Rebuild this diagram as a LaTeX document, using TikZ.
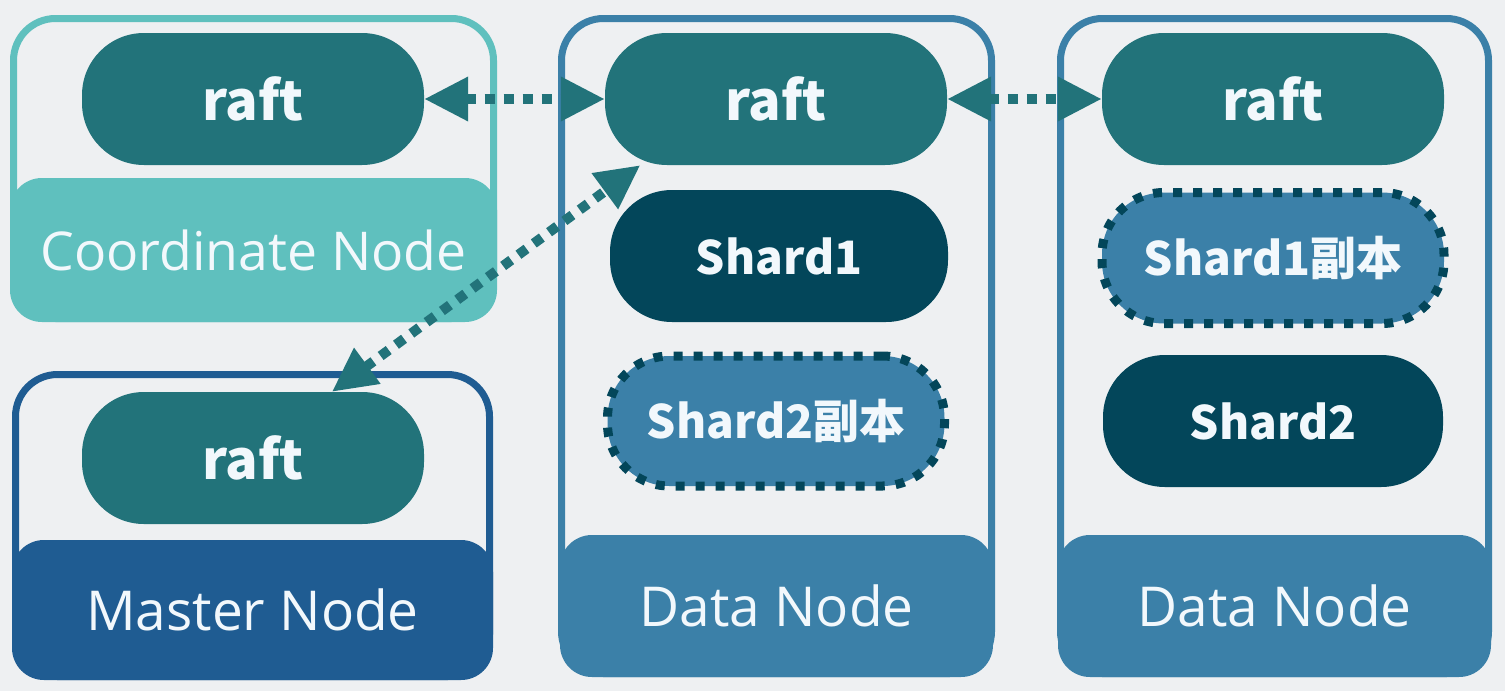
\documentclass[tikz,border=0pt]{standalone}
\usepackage{fontspec}
\newfontfamily\pillfont{Noto Sans CJK SC}
\newfontfamily\labfont{Open Sans}
\usetikzlibrary{arrows.meta}
\definecolor{bg}{HTML}{EEF0F2}
\definecolor{raftc}{HTML}{22737A}
\definecolor{coordc}{HTML}{5FC0BE}
\definecolor{masterc}{HTML}{1F5C92}
\definecolor{datac}{HTML}{3B80A8}
\definecolor{shardc}{HTML}{03465A}
\definecolor{txt}{HTML}{F2F8FC}
\tikzset{
  frame/.style={line width=7pt, rounded corners=42pt, minimum width=#1, inner sep=0pt},
  labelbox/.style={rounded corners=32pt, inner sep=0pt, text=txt,
    font=\labfont\fontsize{55}{60}\selectfont},
  pill/.style={rounded corners=62pt, minimum width=342pt, minimum height=132pt,
    inner sep=0pt, text=txt, font=\pillfont\bfseries\fontsize{46}{56}\selectfont},
  raftpill/.style={pill, fill=raftc, font=\pillfont\bfseries\fontsize{54}{60}\selectfont},
  shardpill/.style={pill, fill=shardc},
  replpill/.style={pill, fill=datac, draw=shardc, line width=9pt, dash pattern=on 9pt off 11pt},
  link/.style={draw=raftc, line width=10pt, dash pattern=on 10pt off 9pt,
    {Triangle[length=44pt,width=42pt]}-{Triangle[length=44pt,width=42pt]}}
}
\begin{document}
\begin{tikzpicture}[x=1pt,y=-1pt]
\fill[bg] (0,0) rectangle (1505,691);
\useasboundingbox (0,0) rectangle (1505,691);

% containers
\node[frame=480pt, draw=coordc, minimum height=300pt] (cframe) at (253.5,168.5) {};
\node[labelbox, fill=coordc, minimum width=487pt, minimum height=144pt, font=\labfont\fontsize{53.5}{60}\selectfont] (clab) at (253.5,250) {Coordinate Node};

\node[frame=474pt, draw=masterc, minimum height=302pt] (mframe) at (252.5,525.5) {};
\node[labelbox, fill=masterc, minimum width=481pt, minimum height=140pt] (mlab) at (252.5,610) {Master Node};

\node[frame=430pt, draw=datac, minimum height=655pt] (d1frame) at (776.5,346) {};
\node[labelbox, fill=datac, minimum width=433pt, minimum height=142pt] (d1lab) at (776.5,606) {Data Node};

\node[frame=428pt, draw=datac, minimum height=655pt] (d2frame) at (1274.5,346) {};
\node[labelbox, fill=datac, minimum width=433pt, minimum height=142pt] (d2lab) at (1274.5,606) {Data Node};

% pills
\node[raftpill] (r1) at (253,99) {raft};
\node[raftpill] (m) at (253,458) {raft};
\node[raftpill] (r2) at (776,99) {raft};
\node[shardpill, minimum width=338pt] (s1) at (779,256) {Shard1};
\node[replpill, minimum width=337pt, minimum height=130pt] (s2r) at (776,421) {Shard2副本};
\node[raftpill] (r3) at (1273,99) {raft};
\node[replpill, minimum width=342pt, minimum height=131pt] (s1r) at (1273,258) {Shard1副本};
\node[shardpill, minimum width=340pt] (s2) at (1273,421) {Shard2};

% connectors
\draw[link] (r1.east) -- (r2.west);
\draw[link] (r2.east) -- (r3.west);
\draw[link] (m.40.6) -- (r2.206);
\end{tikzpicture}
\end{document}
